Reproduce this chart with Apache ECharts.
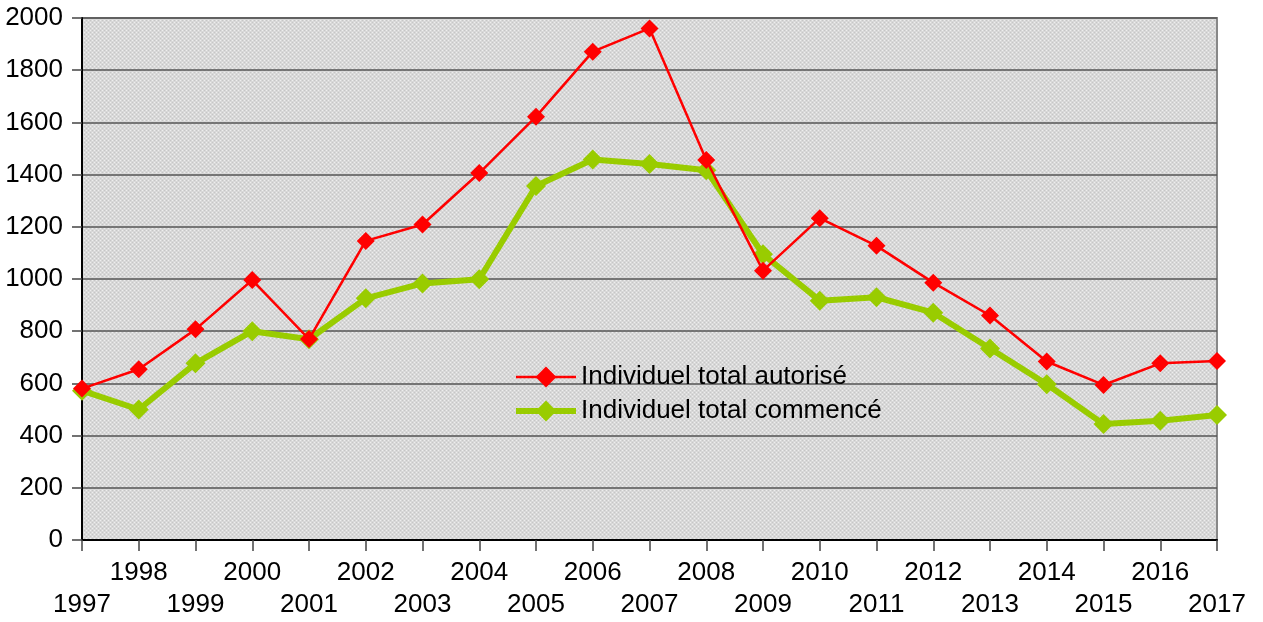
<!DOCTYPE html>
<html>
<head>
<meta charset="utf-8">
<script src="https://cdn.jsdelivr.net/npm/echarts@6/dist/echarts.min.js"></script>
<style>
html,body{margin:0;padding:0;background:#fff;}
#c{width:1263px;height:622px;}
</style>
</head>
<body>
<div id="c"></div>
<script>
const years = ['1997','1998','1999','2000','2001','2002','2003','2004','2005','2006','2007','2008','2009','2010','2011','2012','2013','2014','2015','2016','2017'];
const autorise = [580,654,807,996,770,1146,1209,1406,1622,1871,1960,1456,1032,1233,1127,986,860,684,594,677,686];
const commence = [572,500,677,800,769,926,983,999,1356,1458,1441,1417,1095,917,930,871,734,597,444,457,479];
const yTicks = [0,200,400,600,800,1000,1200,1400,1600,1800,2000];

const pc = document.createElement('canvas');
pc.width = 4; pc.height = 4;
const g = pc.getContext('2d');
g.fillStyle = '#d8d8d8'; g.fillRect(0,0,4,4);
g.fillStyle = '#eeeeee'; g.fillRect(0,0,1,1); g.fillRect(2,2,1,1);
g.fillStyle = '#c6c6c6'; g.fillRect(2,0,1,1); g.fillRect(0,2,1,1);

const chart = echarts.init(document.getElementById('c'), null, {renderer:'canvas'});
const font = 'Liberation Sans, Arial, sans-serif';
chart.setOption({
  animation:false,
  textStyle:{fontFamily:font},
  grid:{left:82,right:46,top:18,bottom:82,show:true,backgroundColor:{image:pc,repeat:'repeat'},borderColor:'#888',borderWidth:2},
  legend:{
    orient:'vertical', left:508, top:359, itemWidth:60, itemHeight:26, itemGap:8,
    textStyle:{fontSize:26,color:'#000',fontFamily:font},
    data:[
      {name:'Individuel total autorisé',lineStyle:{width:2.5}},
      {name:'Individuel total commencé',lineStyle:{width:6}}
    ]
  },
  xAxis:{
    type:'category', data:years, boundaryGap:false,
    axisLine:{lineStyle:{color:'#000',width:2}},
    axisTick:{show:true,length:11,interval:0,lineStyle:{color:'#444',width:1.5}},
    axisLabel:{interval:0,margin:17,fontSize:26,color:'#000',lineHeight:32,verticalAlign:'top',
      formatter:function(v,i){return i%2===0 ? '\n'+v : v;}},
    splitLine:{show:false}
  },
  yAxis:{
    type:'value', min:0, max:2000, interval:200,
    axisLine:{show:true,lineStyle:{color:'#000',width:2}},
    axisTick:{show:true,length:10,lineStyle:{color:'#444',width:1.5}},
    axisLabel:{margin:19,fontSize:26,color:'#000',
      formatter:function(v){return yTicks.indexOf(v)>=0 ? String(v) : '';}},
    splitLine:{show:true,lineStyle:{color:'#555',width:1.5}}
  },
  series:[
    {name:'Individuel total autorisé',type:'line',data:autorise,symbol:'diamond',symbolSize:18,
      lineStyle:{color:'#ff0000',width:2.5},itemStyle:{color:'#ff0000'},z:3},
    {name:'Individuel total commencé',type:'line',data:commence,symbol:'diamond',symbolSize:20,
      lineStyle:{color:'#99cc00',width:6},itemStyle:{color:'#99cc00'},z:2}
  ]
});
</script>
</body>
</html>
